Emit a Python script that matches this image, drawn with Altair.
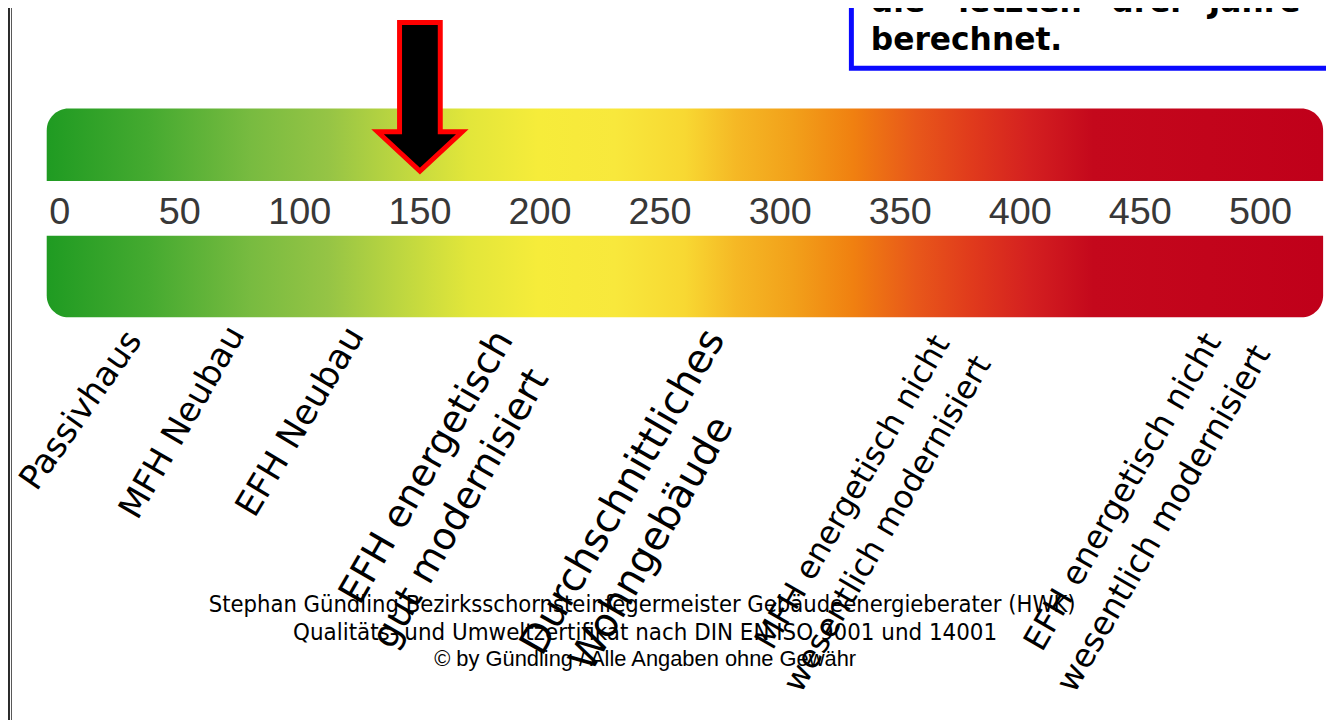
import altair as alt
import pandas as pd

# ---------------- data ----------------
tick_values = [0, 50, 100, 150, 200, 250, 300, 350, 400, 450, 500]
arrow_value = [150]
scale_start = [-5.4]
scale_end = [526.1]

label_texts = [
    "Passivhaus",
    "MFH Neubau",
    "EFH Neubau",
    "EFH energetisch\ngut modernisiert",
    "Durchschnittliches\nWohngebäude",
    "MFH energetisch nicht\nwesentlich modernisiert",
    "EFH energetisch nicht\nwesentlich modernisiert",
]
# position of each label line on the kWh scale
label_line_values = [[9.1], [51.3], [100.2], [153.1, 167.2], [234.7, 246.7],
                     [330.3, 344.8], [442.9, 459.9]]

footer_lines = [
    "Stephan Gündling Bezirksschornsteinfegermeister Gebäudeenergieberater (HWK)",
    "Qualitäts- und Umweltzertifikat nach DIN EN ISO 9001 und 14001",
    "© by Gündling / Alle Angaben ohne Gewähr",
]
box_words = ["die", "letzten", "drei", "Jahre"]
box_last = "berechnet."

grad_colors = ["#1f9b22", "#45aa30", "#78bb40", "#95c445", "#bcd640", "#e2e63a",
               "#f6ec3a", "#f8e83c", "#f8d832", "#f5b825", "#f2a01a", "#f08010",
               "#e8581a", "#e03a1c", "#d42020", "#c4081c", "#c0001a"]
grad_offsets = [0.0, 0.08, 0.16, 0.22, 0.275, 0.33, 0.385, 0.445, 0.5, 0.54,
                0.585, 0.632, 0.68, 0.725, 0.77, 0.82, 1.0]

# ---------------- layout / style ----------------
W, H = 1326, 712
xscale = alt.Scale(domain=[-21.52, 527.3], range=[0, W], nice=False, zero=False)
X = lambda f: alt.X(f, type="quantitative", scale=xscale, axis=None)

label_line_y = [[403], [415], [414], [460, 502], [485, 537], [485, 517], [485, 512]]
label_size = [34, 34, 35, 38, 40, 32, 33]
label_angle = [305, 300, 301, 300, 300, 300, 300]

grad = alt.Gradient(
    gradient="linear",
    stops=[alt.GradientStop(color=c, offset=o) for c, o in zip(grad_colors, grad_offsets)],
    x1=0, x2=1, y1=0, y2=0,
)

bar_df = pd.DataFrame({"x0": scale_start, "x1": scale_end})
top_bar = alt.Chart(bar_df).mark_rect(
    color=grad, cornerRadiusTopLeft=22, cornerRadiusTopRight=22
).encode(x=X("x0"), x2="x1", y=alt.value(99), y2=alt.value(172))
bottom_bar = alt.Chart(bar_df).mark_rect(
    color=grad, cornerRadiusBottomLeft=22, cornerRadiusBottomRight=22
).encode(x=X("x0"), x2="x1", y=alt.value(227), y2=alt.value(309))

tick_df = pd.DataFrame({"v": tick_values, "t": [str(t) for t in tick_values]})
tick_text = alt.Chart(tick_df).mark_text(
    font="Liberation Sans", fontSize=38, color="#383838", baseline="middle", align="center"
).encode(x=X("v"), y=alt.value(204), text="t:N")

arrow_path = "M -0.274 -1 L 0.274 -1 L 0.274 0.47 L 0.57 0.47 L 0 1 L -0.57 0.47 L -0.274 0.47 Z"
arrow_df = pd.DataFrame({"v": arrow_value})
arrow = alt.Chart(arrow_df).mark_point(
    shape=arrow_path, size=22350, filled=True, fill="#000000", fillOpacity=1,
    stroke="#ff0000", strokeWidth=5, strokeJoin="miter", opacity=1
).encode(x=X("v"), y=alt.value(87.25))

label_layers = []
for t, vs, ys, fs, ang in zip(label_texts, label_line_values, label_line_y, label_size, label_angle):
    for line, v, yy in zip(t.split("\n"), vs, ys):
        d = pd.DataFrame({"v": [v], "t": [line]})
        label_layers.append(
            alt.Chart(d).mark_text(
                font="DejaVu Sans", fontSize=fs, color="#000000", angle=ang,
                align="center", baseline="middle"
            ).encode(x=X("v"), y=alt.value(yy), text="t:N")
        )

footer_layers = []
footer_fonts = [("DejaVu Sans Condensed", 23.7, 638), ("DejaVu Sans Condensed", 24, 641),
                ("Liberation Sans", 22, 641)]
for line, yy, (fnt, fs, xx) in zip(footer_lines, [599, 627, 653], footer_fonts):
    d = pd.DataFrame({"t": [line]})
    footer_layers.append(
        alt.Chart(d).mark_text(
            font=fnt, fontSize=fs, color="#000000", align="center", baseline="middle"
        ).encode(x=alt.value(xx), y=alt.value(yy), text="t:N")
    )

one = pd.DataFrame({"a": [0]})
box = alt.Chart(one).mark_rect(
    fill="#ffffff", stroke="#0a0aff", strokeWidth=5
).encode(x=alt.value(848.5), x2=alt.value(1400), y=alt.value(-60), y2=alt.value(58.5))

box_text_layers = []
for w, xx in zip(box_words, [868, 956, 1110, 1208]):
    d = pd.DataFrame({"t": [w]})
    box_text_layers.append(
        alt.Chart(d).mark_text(
            font="DejaVu Sans", fontWeight="bold", fontSize=31.5, color="#000000",
            align="left", baseline="alphabetic"
        ).encode(x=alt.value(xx), y=alt.value(2), text="t:N")
    )
d = pd.DataFrame({"t": [box_last]})
box_text_layers.append(
    alt.Chart(d).mark_text(
        font="DejaVu Sans", fontWeight="bold", fontSize=31.5, color="#000000",
        align="left", baseline="alphabetic"
    ).encode(x=alt.value(868), y=alt.value(40), text="t:N")
)

edge = alt.Chart(one).mark_rect(fill="#2a2a2a").encode(
    x=alt.value(0), x2=alt.value(2), y=alt.value(-8), y2=alt.value(H + 8)
)
edge2 = alt.Chart(one).mark_rect(fill="#555555").encode(
    x=alt.value(3), x2=alt.value(4), y=alt.value(-8), y2=alt.value(H + 8)
)

chart = alt.layer(
    edge, edge2, top_bar, bottom_bar, tick_text, *label_layers,
    *footer_layers, box, *box_text_layers, arrow
).properties(
    width=W, height=H, padding=0, autosize=alt.AutoSizeParams(type="none"),
    background="#ffffff"
).configure_view(stroke=None)

chart.save("out.html", embed_options={"renderer": "svg", "actions": False})
